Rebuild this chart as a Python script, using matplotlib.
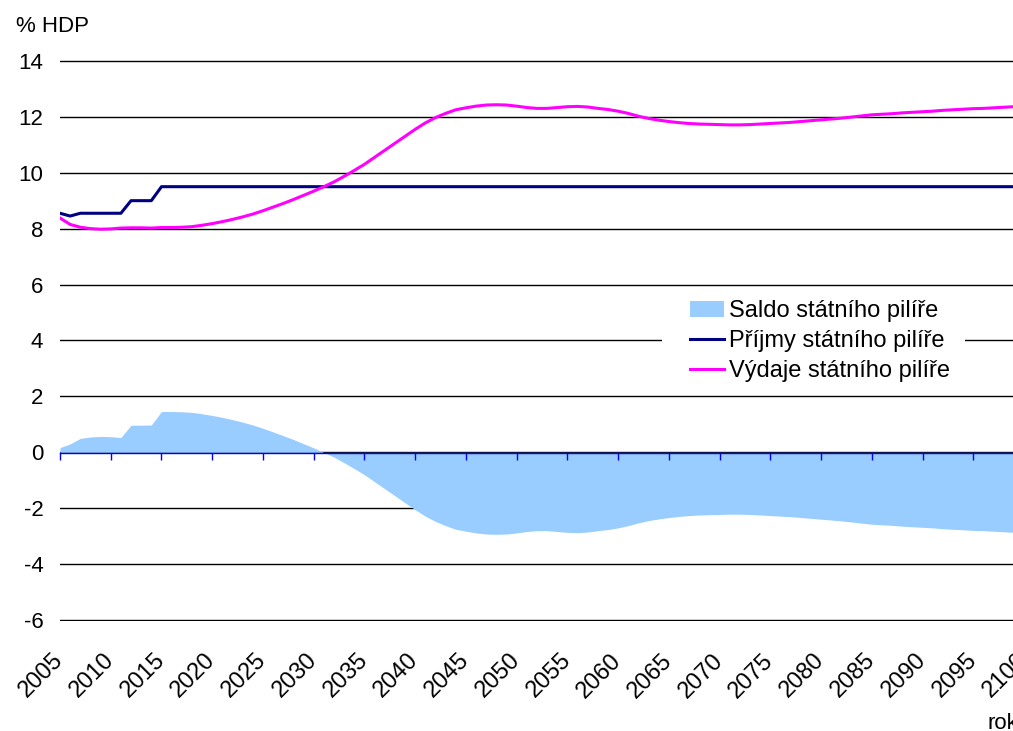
import matplotlib.pyplot as plt
from matplotlib.patches import Rectangle

# roky 2005-2100
roky = list(range(2005, 2101))

# prijmy statniho pilire (% HDP)
prijmy = [8.55, 8.45, 8.55, 8.55, 8.55, 8.55, 8.55, 9.00, 9.00, 9.00] + [9.5] * 86

# vydaje statniho pilire (% HDP)
vydaje = [
    8.38, 8.15, 8.05, 8.00, 7.98, 7.99, 8.02, 8.03, 8.03, 8.02,
    8.04, 8.04, 8.05, 8.07, 8.12, 8.18, 8.25, 8.33, 8.42, 8.52,
    8.64, 8.77, 8.90, 9.04, 9.19, 9.34, 9.50, 9.67, 9.87, 10.08,
    10.30, 10.55, 10.80, 11.05, 11.30, 11.55, 11.78, 11.97, 12.12, 12.25,
    12.32, 12.38, 12.42, 12.43, 12.42, 12.38, 12.33, 12.30, 12.30, 12.33,
    12.36, 12.37, 12.35, 12.30, 12.26, 12.20, 12.12, 12.02, 11.94, 11.88,
    11.83, 11.79, 11.76, 11.74, 11.73, 11.72, 11.71, 11.71, 11.72, 11.74,
    11.76, 11.78, 11.80, 11.83, 11.86, 11.89, 11.92, 11.95, 11.99, 12.03,
    12.07, 12.09, 12.11, 12.14, 12.16, 12.18, 12.20, 12.23, 12.25, 12.27,
    12.29, 12.30, 12.32, 12.34, 12.36, 12.38,
]

# saldo statniho pilire (% HDP)
saldo = [
    0.17, 0.30, 0.50, 0.55, 0.57, 0.56, 0.53, 0.97, 0.97, 0.98,
    1.46, 1.46, 1.45, 1.43, 1.38, 1.32, 1.25, 1.17, 1.08, 0.98,
    0.86, 0.73, 0.60, 0.46, 0.31, 0.16, 0.00, -0.17, -0.37, -0.58,
    -0.80, -1.05, -1.30, -1.55, -1.80, -2.05, -2.28, -2.47, -2.62, -2.75,
    -2.82, -2.88, -2.92, -2.93, -2.92, -2.88, -2.83, -2.80, -2.80, -2.83,
    -2.86, -2.87, -2.85, -2.80, -2.76, -2.70, -2.62, -2.52, -2.44, -2.38,
    -2.33, -2.29, -2.26, -2.24, -2.23, -2.22, -2.21, -2.21, -2.22, -2.24,
    -2.26, -2.28, -2.30, -2.33, -2.36, -2.39, -2.42, -2.45, -2.49, -2.53,
    -2.57, -2.59, -2.61, -2.64, -2.66, -2.68, -2.70, -2.73, -2.75, -2.77,
    -2.79, -2.80, -2.82, -2.84, -2.86, -2.88,
]

x_ticks = list(range(2005, 2101, 5))
y_ticks = list(range(-6, 15, 2))

plt.rcParams['font.family'] = ['Liberation Sans', 'DejaVu Sans']
plt.rcParams['font.size'] = 16
plt.rcParams['axes.unicode_minus'] = False

fig = plt.figure(figsize=(10.13, 7.31), dpi=100)
# osa presahuje pravy okraj obrazku (jako v originale)
ax = fig.add_axes([60 / 1013, 110 / 731, 964 / 1013, 561 / 731])

for s in ax.spines.values():
    s.set_visible(False)

ax.set_xlim(2005, 2100)
ax.set_ylim(-6.03, 14.03)
ax.set_yticks(y_ticks)
ax.set_xticks(x_ticks)
ax.grid(axis='y', color='black', linewidth=1.0, zorder=0)
ax.set_axisbelow(True)
ax.tick_params(axis='y', length=0, pad=12, labelsize=16)
ax.tick_params(axis='x', length=0, pad=26, labelsize=17)
for lab in ax.get_xticklabels():
    lab.set_rotation(45)
    lab.set_ha('right')
    lab.set_va('center')
    lab.set_rotation_mode('anchor')

fill = ax.fill_between(roky, saldo, 0, color='#99CCFF', linewidth=0, zorder=1)
l1, = ax.plot(roky, prijmy, color='#000080', linewidth=2.2, zorder=3)
l2, = ax.plot(roky, vydaje, color='#FF00FF', linewidth=2.2, zorder=3)

# osa x na nule s modrymi carkami
ax0 = ax.secondary_xaxis(0.3)
ax0.set_zorder(4)
ax0.set_xticks(x_ticks)
ax0.set_xticklabels([])
ax0.spines['bottom'].set_color('#0000FF')
ax0.spines['bottom'].set_linewidth(1.0)
ax0.tick_params(axis='x', direction='out', length=5, width=1, color='#0000FF')

# bile pozadi legendy
ax.add_patch(Rectangle((662 / 1013, 1 - 390 / 731), 303 / 1013, 98 / 731,
                       transform=fig.transFigure, facecolor='white',
                       edgecolor='none', zorder=2, clip_on=False))

leg = ax.legend([fill, l1, l2],
                ['Saldo státního pilíře', 'Příjmy státního pilíře', 'Výdaje státního pilíře'],
                loc='upper left', bbox_to_anchor=(690 / 1013, 1 - 300 / 731),
                bbox_transform=fig.transFigure, frameon=False,
                fontsize=17, handlelength=1.44, handleheight=0.64,
                handletextpad=0.2, labelspacing=0.33, borderpad=0,
                borderaxespad=0)
leg.set_zorder(5)

fig.text(16 / 1013, 1 - 32 / 731, '% HDP', fontsize=16, va='baseline', ha='left')
fig.text(987 / 1013, 2 / 731, 'rok', fontsize=16, va='baseline', ha='left')

fig.savefig('out.png', dpi=100)
